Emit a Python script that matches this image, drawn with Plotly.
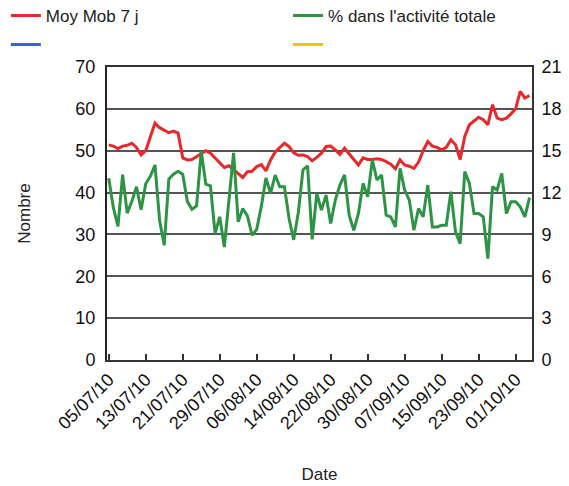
import datetime as dt
import plotly.graph_objects as go

start = dt.date(2010, 7, 5)
moy_mob = [51.4, 51.1, 50.5, 51.1, 51.3, 51.8, 50.8, 49.0, 50.0, 53.4,
           56.6, 55.5, 54.8, 54.3, 54.7, 54.2, 48.3, 47.8, 47.9, 48.6,
           49.5, 50.0, 49.4, 48.3, 47.0, 46.0, 46.4, 45.5, 44.6, 43.6,
           45.0, 45.1, 46.2, 46.7, 45.2, 47.8, 49.7, 50.8, 51.8, 51.0,
           49.5, 48.9, 49.0, 48.6, 47.6, 48.4, 49.4, 51.0, 51.1, 50.2,
           49.1, 50.6, 49.1, 47.9, 46.6, 48.3, 47.9, 47.9, 48.1, 47.9,
           47.4, 46.8, 45.7, 47.8, 46.6, 46.3, 45.8, 47.3, 50.0, 52.2,
           51.1, 50.8, 50.2, 50.8, 52.6, 51.4, 47.9, 53.4, 56.2, 57.0,
           58.0, 57.4, 56.2, 61.0, 57.8, 57.4, 57.8, 58.8, 60.0, 64.2,
           62.6, 63.2]
pct_activite = [13.02, 10.92, 9.57, 13.29, 10.53, 11.37, 12.42, 10.77, 12.63, 13.17,
                13.98, 10.02, 8.22, 12.96, 13.32, 13.53, 13.32, 11.37, 10.80, 11.04,
                14.97, 12.60, 12.48, 9.06, 10.26, 8.10, 11.46, 14.85, 9.90, 10.86,
                10.32, 8.94, 9.36, 11.01, 13.05, 11.94, 13.26, 12.42, 12.42, 10.14,
                8.61, 10.56, 13.62, 13.92, 8.64, 11.94, 10.74, 11.82, 9.78, 11.46,
                12.54, 13.26, 10.38, 9.30, 10.50, 12.66, 11.70, 14.34, 12.90, 13.26,
                10.38, 10.26, 9.54, 13.74, 12.18, 11.46, 9.30, 10.86, 10.26, 12.54,
                9.54, 9.54, 9.66, 9.66, 12.06, 9.18, 8.34, 13.50, 12.66, 10.50,
                10.50, 10.26, 7.26, 12.42, 12.18, 13.38, 10.50, 11.34, 11.34, 10.98,
                10.26, 11.64]
dates = [start + dt.timedelta(days=i) for i in range(len(moy_mob))]

series_names = ["Moy Mob 7 j", "% dans l'activité totale", " ", "  "]
series_colors = ["#e8282b", "#2e9445", "#3366dd", "#f4c20d"]
left_ticks = list(range(0, 71, 10))
right_ticks = list(range(0, 22, 3))
x_tick_dates = [start + dt.timedelta(days=8 * k) for k in range(12)]
x_tick_text = [d.strftime("%d/%m/%y") for d in x_tick_dates]

FONT = "Liberation Sans, Arial, sans-serif"
TXT = "#222222"

fig = go.Figure()
fig.add_trace(go.Scatter(x=dates, y=moy_mob, name=series_names[0], mode="lines",
                         line=dict(color=series_colors[0], width=3), legend="legend"))
fig.add_trace(go.Scatter(x=dates, y=pct_activite, name=series_names[1], mode="lines",
                         line=dict(color=series_colors[1], width=3), yaxis="y2",
                         legend="legend2"))
fig.add_trace(go.Scatter(x=[None], y=[None], name=series_names[2], mode="lines",
                         line=dict(color=series_colors[2], width=3), showlegend=True,
                         legend="legend3"))
fig.add_trace(go.Scatter(x=[None], y=[None], name=series_names[3], mode="lines",
                         line=dict(color=series_colors[3], width=3), yaxis="y2",
                         showlegend=True, legend="legend4"))

leg_common = dict(orientation="v", yanchor="top", xanchor="left", tracegroupgap=0,
                  font=dict(size=17, color=TXT), itemwidth=30,
                  bgcolor="rgba(0,0,0,0)")

fig.update_layout(
    width=561, height=478,
    margin=dict(l=99, r=37, t=59, b=126, autoexpand=False),
    paper_bgcolor="white", plot_bgcolor="white",
    font=dict(family=FONT, size=17, color=TXT),
    showlegend=True,
    legend=dict(x=-0.238, y=1.236, **leg_common),
    legend2=dict(x=0.426, y=1.236, **leg_common),
    legend3=dict(x=-0.238, y=1.137, **leg_common),
    legend4=dict(x=0.426, y=1.137, **leg_common),
    xaxis=dict(
        type="date",
        range=[dt.datetime(2010, 7, 4, 15), dt.datetime(2010, 10, 4, 13)],
        tickvals=x_tick_dates, ticktext=x_tick_text, tickangle=-45,
        tickfont=dict(size=18, color="#111111"),
        ticks="inside", ticklen=6, tickwidth=2, tickcolor="#333333",
        showgrid=False, showline=True, linecolor="#333333", linewidth=2, mirror=True,
        title=dict(text="Date", font=dict(size=17, color=TXT), standoff=36),
        zeroline=False, automargin=False,
    ),
    yaxis=dict(
        range=[0, 70], tickvals=left_ticks,
        tickfont=dict(size=18, color="#111111"),
        ticklabelstandoff=6,
        showgrid=True, gridcolor="#555555", gridwidth=2,
        showline=True, linecolor="#222222", linewidth=2,
        ticks="", zeroline=False, automargin=False,
        title=dict(text="Nombre", font=dict(size=17, color=TXT), standoff=40),
    ),
    yaxis2=dict(
        range=[0, 21], tickvals=right_ticks, overlaying="y", side="right",
        tickfont=dict(size=18, color="#111111"),
        ticklabelstandoff=4,
        showgrid=False, showline=True, linecolor="#333333", linewidth=2,
        ticks="", zeroline=False, automargin=False,
    ),
)

fig.write_html("out.html")
